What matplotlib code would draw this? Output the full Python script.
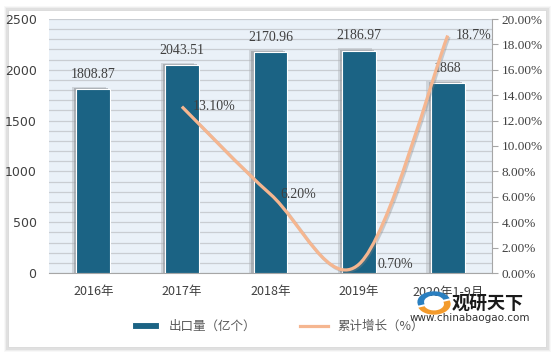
import matplotlib.pyplot as plt
from matplotlib.path import Path
from matplotlib.patches import PathPatch, Rectangle, Wedge
import matplotlib.patheffects as pe

years = ['2016年', '2017年', '2018年', '2019年', '2020年1-9月']
export = [1808.87, 2043.51, 2170.96, 2186.97, 1868]
export_labels = ['1808.87', '2043.51', '2170.96', '2186.97', '1868']
growth_idx = [1, 2, 3, 4]
growth = [13.1, 6.2, 0.7, 18.7]
growth_labels = ['13.10%', '6.20%', '0.70%', '18.7%']

W, H = 554, 356
fig = plt.figure(figsize=(W / 100, H / 100), dpi=100)
fig.patch.set_facecolor('white')

# card with soft shadow
for i, a in enumerate([0.05, 0.08, 0.12]):
    d = 4 - i
    fig.patches.append(Rectangle(((8 - d) / W, (9 - d - 1) / H), (538 + 2 * d + 1) / W, (337 + 2 * d + 1) / H,
                                 transform=fig.transFigure, facecolor='#808080', alpha=a,
                                 edgecolor='none', zorder=0))
fig.patches.append(Rectangle((8 / W, 9 / H), 538 / W, 337 / H, transform=fig.transFigure,
                             facecolor='white', edgecolor='#d9d9d9', lw=0.6, zorder=0))

ax = fig.add_axes([49 / W, 83 / H, 443 / W, 254 / H])
ax.set_facecolor('#EAF1F8')
ax.set_zorder(1)
x = list(range(len(years)))
ax.set_xlim(-0.5, len(years) - 0.5)
ax.set_ylim(0, 2500)
ax.set_yticks(range(0, 2501, 500))
ax.set_yticks(range(0, 2501, 100), minor=True)
ax.grid(axis='y', which='both', color='#C9CDD2', lw=0.9)
ax.set_axisbelow(True)
ax.tick_params(axis='y', which='both', length=0, labelsize=9, labelcolor='#404040', pad=9)
ax.tick_params(axis='x', length=0, pad=9)
ax.set_xticks(x)
ax.set_xticklabels(years, fontsize=9, color='#404040', family=['Noto Sans CJK SC', 'DejaVu Sans'])
for s in ['top', 'left', 'right']:
    ax.spines[s].set_visible(False)
ax.spines['bottom'].set_color('#A6A6A6')

bw = 0.38
# bar shadows (soft, mostly on the left and top)
ax.bar([v - 0.05 for v in x], [v + 25 for v in export], width=bw, color='#B0B4B8', alpha=0.45, zorder=2)
ax.bar([v - 0.025 for v in x], [v + 12 for v in export], width=bw, color='#8E9297', alpha=0.55, zorder=2)
ax.bar(x, export, width=bw, color='#1B6384', edgecolor='white', lw=0.8, zorder=3,
       label='出口量（亿个）')
for xi, v, t in zip(x, export, export_labels):
    ax.annotate(t, (xi, v), xytext=(0, 6), textcoords='offset points', ha='center', va='bottom',
                fontsize=10, family='Liberation Serif', color='#404040', zorder=5)

ax2 = ax.twinx()
ax2.set_ylim(0, 20)
ax2.set_yticks(range(0, 21, 2))
ax2.set_yticklabels(['%.2f%%' % v for v in range(0, 21, 2)], family='Liberation Serif',
                    fontsize=9.5, color='#404040')
ax2.tick_params(axis='y', length=4, color='#A6A6A6', pad=3)
for s in ['top', 'left', 'bottom']:
    ax2.spines[s].set_visible(False)
ax2.spines['right'].set_color('#A6A6A6')

# smoothed line (Catmull-Rom style bezier, as Excel draws it)
pts = list(zip(growth_idx, growth))
verts = [pts[0]]
codes = [Path.MOVETO]
for i in range(len(pts) - 1):
    p0 = pts[i - 1] if i > 0 else pts[i]
    p1, p2 = pts[i], pts[i + 1]
    p3 = pts[i + 2] if i + 2 < len(pts) else pts[i + 1]
    c1 = (p1[0] + (p2[0] - p0[0]) / 6, p1[1] + (p2[1] - p0[1]) / 6)
    c2 = (p2[0] - (p3[0] - p1[0]) / 6, p2[1] - (p3[1] - p1[1]) / 6)
    verts += [c1, c2, p2]
    codes += [Path.CURVE4] * 3
curve = PathPatch(Path(verts, codes), facecolor='none', edgecolor='#F5B690', lw=2.3, zorder=4,
                  path_effects=[pe.SimpleLineShadow(offset=(1, -1), shadow_color='gray', alpha=0.35),
                                pe.Normal()])
ax2.add_patch(curve)
line_proxy, = ax2.plot([], [], color='#F5B690', lw=2.3, label='累计增长（%）')
label_dx = [8, 7, 13, 6]
for xi, v, t, dx in zip(growth_idx, growth, growth_labels, label_dx):
    ax2.annotate(t, (xi, v), xytext=(dx, 0), textcoords='offset points', ha='left', va='center',
                 fontsize=10, family='Liberation Serif', color='#404040', zorder=5)

h1, l1 = ax.get_legend_handles_labels()
h2, l2 = ax2.get_legend_handles_labels()
leg = fig.legend(h1 + h2, l1 + l2, loc='center', bbox_to_anchor=(278 / W, 1 - 326 / H), ncol=2,
                 frameon=False, columnspacing=3.5, handlelength=2.2, handleheight=0.5,
                 prop={'family': ['Noto Sans CJK SC', 'DejaVu Sans'], 'size': 9})
for t in leg.get_texts():
    t.set_color('#595959')

# watermark
fig.patches.append(Wedge((434 / W, 1 - 302 / H), 0.030, 20, 200, width=0.012, transform=fig.transFigure,
                         facecolor='#2A7FC0', edgecolor='none', zorder=6))
fig.patches.append(Wedge((434 / W, 1 - 304 / H), 0.030, 200, 380, width=0.012, transform=fig.transFigure,
                         facecolor='#F39A2B', edgecolor='none', zorder=6))
fig.text(488 / W, 1 - 303 / H, '观研天下', ha='center', va='center', fontsize=13, fontweight='bold',
         family='Noto Sans CJK SC', color='#1a1a1a', zorder=6)
fig.text(470 / W, 1 - 318 / H, 'www.chinabaogao.com', ha='center', va='center', fontsize=7.5,
         color='#333333', zorder=6)

fig.savefig('out.png', dpi=100)
